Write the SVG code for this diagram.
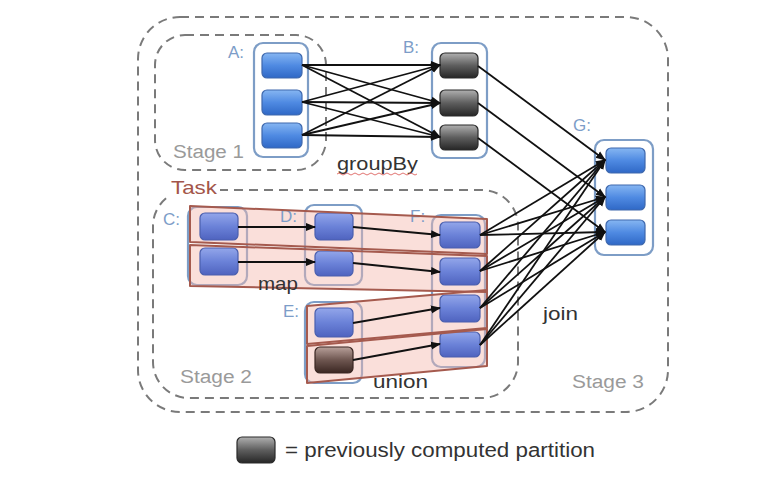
<svg xmlns="http://www.w3.org/2000/svg" width="761" height="491" viewBox="0 0 761 491">
<defs>
<linearGradient id="gBlue" x1="0" y1="0" x2="0" y2="1">
<stop offset="0" stop-color="#86b6f2"/><stop offset="0.5" stop-color="#4f8ae2"/><stop offset="1" stop-color="#2f68c6"/>
</linearGradient>
<linearGradient id="gTint" x1="0" y1="0" x2="0" y2="1">
<stop offset="0" stop-color="#93a6ea"/><stop offset="0.5" stop-color="#6b82d8"/><stop offset="1" stop-color="#4f63bf"/>
</linearGradient>
<linearGradient id="gDark" x1="0" y1="0" x2="0" y2="1">
<stop offset="0" stop-color="#b0b0b0"/><stop offset="0.5" stop-color="#5e5e5e"/><stop offset="1" stop-color="#262626"/>
</linearGradient>
<linearGradient id="gBrown" x1="0" y1="0" x2="0" y2="1">
<stop offset="0" stop-color="#b8a09a"/><stop offset="0.5" stop-color="#6e5650"/><stop offset="1" stop-color="#3a2622"/>
</linearGradient>
<marker id="ah" markerUnits="userSpaceOnUse" markerWidth="10" markerHeight="10" viewBox="0 0 10 10" refX="9" refY="5" orient="auto">
<path d="M0,1 L10,5 L0,9 z" fill="#111"/>
</marker>
<style>
.stage{fill:none;stroke:#7a7a7a;stroke-width:2;stroke-dasharray:9 6}
.cont{fill:#fff;stroke:#7d9dc6;stroke-width:2.2}
.pb{fill:url(#gBlue);stroke:#3e68ad;stroke-width:1.2}
.pt{fill:url(#gTint);stroke:#4a5fae;stroke-width:1.2}
.pd{fill:url(#gDark);stroke:#2a2a2a;stroke-width:1.2}
.pbr{fill:url(#gBrown);stroke:#3a2622;stroke-width:1.2}
.taskf{fill:#f3b9ad;fill-opacity:0.45;stroke:none}
.tasks{fill:none;stroke:#a55a4e;stroke-width:2;stroke-linejoin:round}
.lbl{font-family:"Liberation Sans",Arial,sans-serif;font-size:17px;fill:#7d9dc8}
.stg{font-family:"Liberation Sans",Arial,sans-serif;font-size:18px;fill:#9a9a9a}
.op{font-family:"Liberation Sans",Arial,sans-serif;font-size:19px;fill:#333}
.edge line{stroke:#111;stroke-width:1.8;marker-end:url(#ah)}
</style>
</defs>
<rect width="761" height="491" fill="#fff"/>

<g id="stage3"><rect class="stage" x="138" y="17" width="530" height="395" rx="42"/></g>
<g id="stage1"><rect class="stage" x="155" y="35" width="171" height="135" rx="30"/></g>
<g id="stage2"><rect class="stage" x="153" y="190" width="365" height="208" rx="36"/></g>

<g id="A"><rect class="cont" x="254" y="43" width="54" height="114" rx="9"/>
<rect class="pb" x="262" y="53" width="40" height="25" rx="5"/>
<rect class="pb" x="262" y="90" width="40" height="25" rx="5"/>
<rect class="pb" x="262" y="123" width="40" height="25" rx="5"/>
<text class="lbl" x="228" y="58">A:</text></g>

<g id="B"><rect class="cont" x="432" y="43" width="55" height="115" rx="9"/>
<rect class="pd" x="440" y="53" width="38" height="25" rx="5"/>
<rect class="pd" x="440" y="90" width="38" height="26" rx="5"/>
<rect class="pd" x="440" y="125" width="38" height="25" rx="5"/>
<text class="lbl" x="403" y="53">B:</text></g>

<g id="G"><rect class="cont" x="595" y="140" width="58" height="115" rx="9"/>
<rect class="pb" x="606" y="148" width="39" height="25" rx="5"/>
<rect class="pb" x="606" y="185" width="39" height="25" rx="5"/>
<rect class="pb" x="606" y="220" width="39" height="25" rx="5"/>
<text class="lbl" x="573" y="131">G:</text></g>

<g id="containers2">
<rect class="cont" x="188" y="207" width="59" height="78" rx="9"/>
<rect class="cont" x="305" y="205" width="57" height="80" rx="9"/>
<rect class="cont" x="305" y="302" width="57" height="81" rx="9"/>
<rect class="cont" x="432" y="215" width="53" height="152" rx="9"/>
</g>

<g id="taskfills">
<path class="taskf" d="M190,206 L487,219 L487,254 L190,242 Z"/>
<path class="taskf" d="M190,245 L487,256 L487,292 L190,286 Z"/>
<path class="taskf" d="M307,306 L487,290 L487,328 L307,344 Z"/>
<path class="taskf" d="M307,346 L487,329 L487,366 L307,383 Z"/>
</g>

<g id="C">
<rect class="pt" x="200" y="213" width="38" height="27" rx="5"/>
<rect class="pt" x="200" y="248" width="38" height="27" rx="5"/>
<text class="lbl" x="163" y="225">C:</text></g>

<g id="D">
<rect class="pt" x="315" y="213" width="38" height="27" rx="5"/>
<rect class="pt" x="315" y="251" width="38" height="25" rx="5"/>
<text class="lbl" x="280" y="222">D:</text></g>

<g id="E">
<rect class="pt" x="315" y="308" width="38" height="29" rx="5"/>
<rect class="pbr" x="315" y="347" width="38" height="26" rx="5"/>
<text class="lbl" x="283" y="317">E:</text></g>

<g id="F">
<rect class="pt" x="440" y="222" width="40" height="26" rx="5"/>
<rect class="pt" x="440" y="258" width="40" height="27" rx="5"/>
<rect class="pt" x="440" y="295" width="40" height="27" rx="5"/>
<rect class="pt" x="440" y="332" width="40" height="25" rx="5"/>
<text class="lbl" x="410" y="222">F:</text></g>

<g id="tasks">
<path class="tasks" d="M190,206 L487,219 L487,254 L190,242 Z"/>
<path class="tasks" d="M190,245 L487,256 L487,292 L190,286 Z"/>
<path class="tasks" d="M307,306 L487,290 L487,328 L307,344 Z"/>
<path class="tasks" d="M307,346 L487,329 L487,366 L307,383 Z"/>
</g>

<g id="connectors" class="edge">
<line x1="302" y1="65" x2="440" y2="65"/>
<line x1="302" y1="65" x2="440" y2="103"/>
<line x1="302" y1="65" x2="440" y2="137"/>
<line x1="302" y1="102" x2="440" y2="65"/>
<line x1="302" y1="102" x2="440" y2="103"/>
<line x1="302" y1="102" x2="440" y2="137"/>
<line x1="302" y1="135" x2="440" y2="65"/>
<line x1="302" y1="135" x2="440" y2="103"/>
<line x1="302" y1="135" x2="440" y2="137"/>
<line x1="478" y1="66" x2="605" y2="160"/>
<line x1="478" y1="103" x2="605" y2="197"/>
<line x1="478" y1="138" x2="605" y2="232"/>
<line x1="480" y1="235" x2="605" y2="160"/>
<line x1="480" y1="235" x2="605" y2="197"/>
<line x1="480" y1="235" x2="605" y2="232"/>
<line x1="480" y1="271" x2="605" y2="160"/>
<line x1="480" y1="271" x2="605" y2="197"/>
<line x1="480" y1="271" x2="605" y2="232"/>
<line x1="480" y1="308" x2="605" y2="160"/>
<line x1="480" y1="308" x2="605" y2="197"/>
<line x1="480" y1="308" x2="605" y2="232"/>
<line x1="480" y1="345" x2="605" y2="160"/>
<line x1="480" y1="345" x2="605" y2="197"/>
<line x1="480" y1="345" x2="605" y2="232"/>
<line x1="238" y1="227" x2="315" y2="227"/>
<line x1="238" y1="262" x2="315" y2="262"/>
<line x1="353" y1="227" x2="440" y2="235"/>
<line x1="353" y1="263" x2="440" y2="272"/>
<line x1="353" y1="323" x2="440" y2="308"/>
<line x1="353" y1="360" x2="440" y2="344"/>
</g>

<g id="labels">
<text class="op" x="337" y="170" textLength="81" lengthAdjust="spacingAndGlyphs">groupBy</text>
<path d="M337,174 q2,-2 4,0 t4,0 t4,0 t4,0 t4,0 t4,0 t4,0 t4,0 t4,0 t4,0 t4,0 t4,0 t4,0 t4,0 t4,0 t4,0 t4,0 t4,0 t4,0 t4,0" fill="none" stroke="#d9534f" stroke-width="1" opacity="0.8"/>
<text class="op" x="258" y="290" textLength="40" lengthAdjust="spacingAndGlyphs">map</text>
<text class="op" x="373" y="388" textLength="55" lengthAdjust="spacingAndGlyphs">union</text>
<text class="op" x="543" y="320" textLength="35" lengthAdjust="spacingAndGlyphs">join</text>
<text class="stg" x="173" y="158" textLength="71" lengthAdjust="spacingAndGlyphs">Stage 1</text>
<text class="stg" x="180" y="383" textLength="72" lengthAdjust="spacingAndGlyphs">Stage 2</text>
<text class="stg" x="572" y="388" textLength="72" lengthAdjust="spacingAndGlyphs">Stage 3</text>
<rect x="168" y="176" width="52" height="22" fill="#fff"/>
<text x="171" y="194" font-family="'Liberation Sans',Arial,sans-serif" font-size="19" fill="#a3554a" textLength="46" lengthAdjust="spacingAndGlyphs">Task</text>
</g>

<g id="legend">
<rect class="pd" x="237" y="437" width="38" height="26" rx="5"/>
<text x="285" y="457" font-family="'Liberation Sans',Arial,sans-serif" font-size="20" fill="#333" textLength="310" lengthAdjust="spacingAndGlyphs">= previously computed partition</text>
</g>
</svg>
